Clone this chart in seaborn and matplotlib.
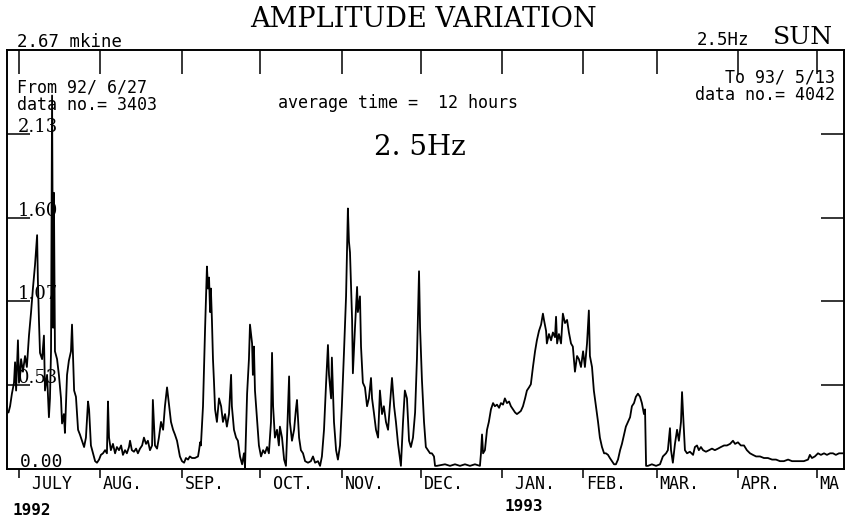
import matplotlib
matplotlib.use("Agg")
import matplotlib.pyplot as plt
import matplotlib.transforms as mtransforms
import numpy as np
import pandas as pd
import seaborn as sns

# ---------------- data (day offset from 92/6/27, amplitude in mkine, 12 h averages) -------------
days_jul_sep = [0.0, 0.6, 1.3, 2.1, 2.5, 2.9, 3.6, 4.0, 4.8, 5.5,
                6.3, 7.0, 7.8, 8.6, 9.3, 10.1, 10.9, 11.2, 11.6, 12.0,
                12.8, 13.5, 13.9, 14.7, 15.4, 15.8, 16.2, 16.6, 17.0, 17.3,
                17.7, 18.5, 19.2, 20.0, 20.4, 21.1, 21.5, 22.3, 23.0, 23.8,
                24.2, 24.6, 25.0, 25.7, 26.5, 27.2, 28.0, 28.8, 29.5, 30.3,
                30.7, 31.4, 32.2, 33.0, 33.7, 34.5, 35.2, 36.0, 36.8, 37.5,
                37.9, 38.3, 39.0, 39.8, 40.6, 41.3, 42.1, 42.9, 43.6, 44.4,
                45.1, 45.9, 46.3, 47.0, 47.8, 48.6, 49.3, 50.1, 50.9, 51.6,
                52.4, 53.1, 53.9, 54.7, 55.0, 55.8, 56.6, 57.3, 58.1, 58.9,
                59.6, 60.4, 61.1, 61.9, 62.7, 63.4, 64.2, 65.3, 66.1, 66.9,
                67.6, 68.4, 69.1, 69.9, 71.0, 72.2, 72.6, 73.0, 73.3, 74.1,
                74.9, 75.6, 76.0, 76.4, 76.8, 77.1, 77.5, 77.9, 78.3]
amp_jul_sep = [0.36, 0.40, 0.48, 0.55, 0.68, 0.50, 0.82, 0.55, 0.70, 0.62,
               0.72, 0.65, 0.85, 1.00, 1.15, 1.30, 1.49, 1.20, 0.95, 0.74,
               0.70, 0.85, 0.50, 0.60, 0.33, 0.45, 0.75, 2.38, 0.90, 1.76,
               0.75, 0.70, 0.60, 0.45, 0.29, 0.35, 0.23, 0.60, 0.69, 0.75,
               0.92, 0.70, 0.50, 0.46, 0.25, 0.22, 0.18, 0.14, 0.20, 0.43,
               0.38, 0.15, 0.10, 0.05, 0.04, 0.06, 0.09, 0.10, 0.12, 0.10,
               0.43, 0.20, 0.12, 0.16, 0.10, 0.14, 0.12, 0.15, 0.09, 0.12,
               0.10, 0.14, 0.18, 0.12, 0.11, 0.13, 0.10, 0.13, 0.15, 0.20,
               0.16, 0.18, 0.12, 0.15, 0.44, 0.15, 0.13, 0.20, 0.30, 0.25,
               0.40, 0.52, 0.42, 0.30, 0.25, 0.22, 0.18, 0.08, 0.05, 0.04,
               0.07, 0.06, 0.08, 0.07, 0.07, 0.08, 0.12, 0.17, 0.15, 0.40,
               0.90, 1.29, 1.15, 1.22, 1.00, 1.15, 0.95, 0.70, 0.55]

days_sep_dec = [78.7, 79.4, 80.2, 81.0, 81.7, 82.5, 83.2, 84.0, 84.8, 85.1,
                85.9, 86.7, 87.4, 88.2, 89.0, 89.7, 90.1, 90.5, 90.9, 91.6,
                92.0, 92.8, 93.1, 93.5, 93.9, 94.7, 95.4, 96.2, 97.0, 97.7,
                98.5, 99.2, 100.0, 100.4, 100.8, 101.5, 102.3, 103.0, 103.4, 104.2,
                105.0, 105.7, 106.1, 106.9, 107.2, 108.0, 108.8, 109.5, 109.9, 110.7,
                111.4, 112.2, 113.0, 114.1, 115.2, 116.0, 116.8, 117.9, 118.7, 119.4,
                120.2, 121.0, 121.7, 122.1, 122.9, 123.2, 124.0, 124.8, 125.5, 126.3,
                127.0, 127.8, 128.6, 129.0, 129.3, 129.7, 130.1, 130.9, 131.2, 132.0,
                132.8, 133.1, 133.9, 134.3, 135.0, 135.8, 136.6, 137.3, 138.1, 138.5,
                139.2, 140.0, 140.8, 141.5, 142.3, 143.0, 143.8, 144.6, 145.3, 146.1,
                146.9, 147.6, 148.4, 149.5, 150.3, 151.0, 151.8, 152.6, 153.3, 154.1,
                154.9, 155.6, 156.4, 156.8, 157.5, 158.3, 159.0, 159.8, 160.6, 161.3,
                162.1, 162.5]
amp_sep_dec = [0.38, 0.30, 0.45, 0.40, 0.30, 0.35, 0.27, 0.35, 0.60, 0.40,
               0.25, 0.20, 0.18, 0.08, 0.03, 0.10, 0.01, 0.25, 0.48, 0.70,
               0.92, 0.80, 0.60, 0.78, 0.50, 0.31, 0.15, 0.08, 0.12, 0.10,
               0.14, 0.10, 0.30, 0.74, 0.40, 0.20, 0.25, 0.15, 0.27, 0.20,
               0.06, 0.02, 0.20, 0.59, 0.30, 0.18, 0.25, 0.38, 0.44, 0.20,
               0.12, 0.10, 0.05, 0.04, 0.05, 0.08, 0.04, 0.05, 0.02, 0.08,
               0.25, 0.55, 0.79, 0.60, 0.45, 0.71, 0.30, 0.12, 0.06, 0.15,
               0.40, 0.74, 1.10, 1.42, 1.66, 1.45, 1.38, 0.95, 0.61, 0.90,
               1.16, 1.00, 1.10, 0.78, 0.55, 0.52, 0.40, 0.45, 0.58, 0.45,
               0.36, 0.25, 0.20, 0.50, 0.35, 0.40, 0.30, 0.25, 0.40, 0.58,
               0.40, 0.30, 0.16, 0.02, 0.30, 0.50, 0.45, 0.18, 0.14, 0.20,
               0.36, 0.70, 1.26, 0.90, 0.57, 0.30, 0.14, 0.12, 0.10, 0.10,
               0.08, 0.02]

days_dec_mar = [163.2, 166.3, 168.2, 170.1, 172.0, 173.9, 175.8, 177.7, 179.6, 180.0,
                180.4, 180.8, 181.5, 182.3, 183.0, 183.8, 184.6, 185.3, 186.1, 186.9,
                187.6, 188.4, 189.1, 189.9, 190.7, 191.4, 192.2, 193.0, 193.7, 194.5,
                195.2, 196.0, 196.8, 197.5, 198.3, 199.0, 199.8, 200.6, 201.3, 202.1,
                202.9, 203.6, 204.0, 204.8, 205.1, 205.9, 206.7, 207.4, 208.2, 208.6,
                209.0, 209.7, 210.5, 211.2, 212.0, 212.8, 213.5, 214.3, 215.0, 215.8,
                216.6, 217.3, 218.1, 218.9, 219.6, 220.4, 221.1, 221.5, 222.3, 223.0,
                223.8, 224.6, 225.3, 226.1, 226.9, 227.6, 228.4, 229.1, 229.9, 230.7,
                231.4, 232.2, 233.0, 233.7, 234.5, 235.2, 236.0, 236.8, 237.5, 238.3,
                239.0, 239.8, 240.6, 241.3, 242.1, 242.5, 242.9]
amp_dec_mar = [0.02, 0.03, 0.02, 0.03, 0.02, 0.03, 0.02, 0.03, 0.02, 0.10,
               0.22, 0.10, 0.12, 0.25, 0.30, 0.38, 0.42, 0.40, 0.41, 0.39,
               0.42, 0.41, 0.45, 0.42, 0.43, 0.40, 0.38, 0.36, 0.35, 0.36,
               0.37, 0.40, 0.45, 0.50, 0.52, 0.54, 0.65, 0.75, 0.82, 0.88,
               0.92, 0.99, 0.95, 0.88, 0.80, 0.86, 0.82, 0.87, 0.84, 0.97,
               0.80, 0.86, 0.80, 0.99, 0.93, 0.95, 0.87, 0.80, 0.78, 0.62,
               0.72, 0.70, 0.65, 0.75, 0.65, 0.80, 1.01, 0.72, 0.65, 0.50,
               0.40, 0.30, 0.20, 0.14, 0.10, 0.10, 0.09, 0.07, 0.05, 0.03,
               0.03, 0.06, 0.12, 0.16, 0.22, 0.27, 0.30, 0.33, 0.40, 0.42,
               0.46, 0.48, 0.46, 0.42, 0.35, 0.38, 0.02]

days_mar_may = [243.6, 245.1, 246.7, 248.2, 249.3, 250.5, 251.2, 252.0, 252.4, 253.1,
                253.9, 254.7, 255.4, 256.2, 256.6, 257.0, 257.7, 258.5, 259.6, 260.8,
                261.5, 262.3, 263.0, 263.8, 264.6, 265.7, 266.9, 268.0, 269.1, 270.3,
                271.4, 272.6, 273.7, 274.9, 276.0, 276.8, 277.9, 279.0, 280.2, 281.3,
                282.5, 283.6, 284.8, 286.3, 287.8, 289.3, 290.9, 292.4, 293.9, 295.4,
                297.0, 298.5, 300.0, 301.5, 303.0, 304.6, 305.3, 306.1, 307.2, 308.4,
                309.5, 310.7, 311.8, 313.0, 314.1, 315.2, 316.4, 317.9]
amp_mar_may = [0.02, 0.03, 0.02, 0.03, 0.08, 0.10, 0.12, 0.26, 0.12, 0.04,
               0.16, 0.25, 0.18, 0.30, 0.49, 0.35, 0.12, 0.10, 0.11, 0.09,
               0.14, 0.15, 0.12, 0.14, 0.12, 0.11, 0.12, 0.13, 0.12, 0.13,
               0.14, 0.15, 0.15, 0.16, 0.18, 0.16, 0.17, 0.15, 0.15, 0.12,
               0.10, 0.09, 0.08, 0.08, 0.07, 0.07, 0.06, 0.06, 0.05, 0.05,
               0.06, 0.05, 0.05, 0.05, 0.05, 0.06, 0.09, 0.07, 0.08, 0.10,
               0.09, 0.10, 0.09, 0.10, 0.10, 0.09, 0.10, 0.10]

month_days = [4, 35, 66, 96, 127, 157, 188, 219, 247, 278, 308]
month_labels = [" JULY", "AUG.", "SEP.", " OCT.", "NOV.", "DEC.", " JAN.",
                "FEB.", "MAR.", "APR.", "MA"]
y_max = 2.67
y_ticks = [0.534, 1.068, 1.602, 2.136]
y_tick_labels = ["0.53", "1.07", "1.60", "2.13"]

# ---------------- figure -------------
W, H = 852, 518
sns.set_theme(style="white")
plt.rcParams["font.family"] = ["DejaVu Sans Mono", "DejaVu Sans"]
SANS = ["DejaVu Sans Mono", "DejaVu Sans"]
SERIF = ["DejaVu Serif", "DejaVu Sans"]

df = pd.DataFrame({
    "day": days_jul_sep + days_sep_dec + days_dec_mar + days_mar_may,
    "amp": amp_jul_sep + amp_sep_dec + amp_dec_mar + amp_mar_may,
})

fig = plt.figure(figsize=(W / 100, H / 100), dpi=100, facecolor="white")
ax = fig.add_axes([7 / W, 49 / H, 837 / W, 419 / H])
sns.lineplot(data=df, x="day", y="amp", color="black", linewidth=1.3,
             estimator=None, ax=ax)

ax.set_xlim(-0.57, 318.3)
ax.set_ylim(0, y_max)
ax.set_xlabel("")
ax.set_ylabel("")
for sp in ax.spines.values():
    sp.set_visible(True)
    sp.set_color("black")
    sp.set_linewidth(1.4)

ax.set_yticks(y_ticks)
ax.set_yticklabels([])
ax.tick_params(axis="y", direction="in", length=16.5, width=1.1, color="black",
               left=True, right=True, labelleft=False)
ax.set_xticks(month_days)
ax.set_xticklabels([])
ax.tick_params(axis="x", direction="out", length=6.5, width=1.1, color="black",
               bottom=True, top=False, labelbottom=False)
# inward ticks on the top border
ax.vlines(month_days, 1 - 24 / 419, 1, transform=ax.get_xaxis_transform(),
          color="black", linewidth=1.1, clip_on=False)

blend = mtransforms.blended_transform_factory(ax.transAxes, ax.transData)
for v, lab in zip(y_ticks, y_tick_labels):
    ax.annotate(lab, xy=(0, v), xycoords=blend, xytext=(8, 1.5),
                textcoords="offset points", va="baseline", ha="left",
                fontsize=13, family=SERIF, color="black")
ax.annotate("0.00", xy=(0, 0), xycoords=blend, xytext=(9.5, 1.5),
            textcoords="offset points", va="baseline", ha="left",
            fontsize=13, family=SANS, color="black")

for d, lab in zip(month_days, month_labels):
    ax.annotate(lab, xy=(d, 0), xycoords="data", xytext=(2, -14.4),
                textcoords="offset points", va="baseline", ha="left",
                fontsize=12, family=SANS, color="black", annotation_clip=False)


def ftext(x, y, s, **kw):
    kw.setdefault("va", "baseline")
    kw.setdefault("color", "black")
    fig.text(x / W, 1 - y / H, s, **kw)


ftext(423, 27, "AMPLITUDE VARIATION", ha="center", fontsize=19.5, family=SERIF)
ftext(17, 47, "2.67 mkine", fontsize=12.5, family=SANS)
ftext(697, 45, "2.5Hz", fontsize=12.5, family=SANS)
ftext(803, 44, "SUN", ha="center", fontsize=18, family=SERIF)
ftext(17, 92, "From 92/ 6/27", fontsize=12, family=SANS)
ftext(17, 110, "data no.= 3403", fontsize=12, family=SANS)
ftext(278, 108, "average time =  12 hours", fontsize=12, family=SANS)
ftext(420, 155, "2. 5Hz", ha="center", fontsize=20, family=SERIF)
ftext(835, 82, "To 93/ 5/13", ha="right", fontsize=12, family=SANS)
ftext(835, 100, "data no.= 4042", ha="right", fontsize=12, family=SANS)
ftext(12, 515, "1992", fontsize=11.5, family=SANS, weight="bold")
ftext(505, 511, "1993", fontsize=11.5, family=SANS, weight="bold")

fig.savefig("out.png", dpi=100, facecolor="white")
